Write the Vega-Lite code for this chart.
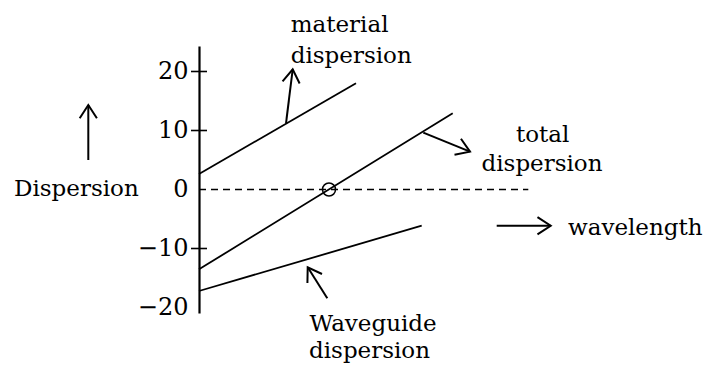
{
  "$schema": "https://vega.github.io/schema/vega-lite/v6.json",
  "width": 514,
  "height": 267,
  "autosize": {"type": "none"},
  "padding": {"left": 199, "top": 46, "right": 0, "bottom": 52},
  "background": "white",
  "config": {"view": {"stroke": null}, "font": "DejaVu Serif", "text": {"font": "DejaVu Serif"}, "axis": {"labelFont": "DejaVu Serif"}},
  "datasets": {
    "lines": [
      {"series": "material", "x": 0, "y": 2.63},
      {"series": "material", "x": 15.7, "y": 18.0},
      {"series": "total", "x": 0, "y": -13.53},
      {"series": "total", "x": 25.37, "y": 12.92},
      {"series": "waveguide", "x": 0, "y": -17.2},
      {"series": "waveguide", "x": 22.27, "y": -6.14}
    ],
    "zero": [{"x": 0, "y": 0}, {"x": 32.93, "y": 0}],
    "cross": [{"x": 13.0, "y": 0}],
    "ticks": [{"y": 20}, {"y": 10}, {"y": -10}],
    "arrows": [
      {"arrow": "material", "x": 8.7, "y": 11.22, "x2": 9.37, "y2": 20.37},
      {"arrow": "total", "x": 22.43, "y": 9.63, "x2": 27.1, "y2": 6.41},
      {"arrow": "waveguide", "x": 12.83, "y": -18.44, "x2": 10.87, "y2": -13.19},
      {"arrow": "wavelength", "x": 29.77, "y": -6.14, "x2": 35.17, "y2": -6.14},
      {"arrow": "dispersion", "x": -11.07, "y": 5.0, "x2": -11.07, "y2": 14.32}
    ],
    "labels": [
      {"label": "Dispersion", "x": -18.5, "y": -1.1},
      {"label": "material", "x": 9.17, "y": 26.75},
      {"label": "dispersion", "x": 9.17, "y": 21.44},
      {"label": "total", "x": 31.7, "y": 8.1},
      {"label": "dispersion", "x": 28.25, "y": 3.22},
      {"label": "wavelength", "x": 36.9, "y": -7.71},
      {"label": "Waveguide", "x": 11.05, "y": -23.93},
      {"label": "dispersion", "x": 11.0, "y": -28.61}
    ]
  },
  "layer": [
    {
      "data": {"name": "lines"},
      "mark": {"type": "line", "color": "black", "strokeWidth": 1.8},
      "encoding": {
        "x": {"field": "x", "type": "quantitative", "scale": {"domain": [0, 51.4], "nice": false, "zero": false}, "axis": null},
        "y": {"field": "y", "type": "quantitative", "scale": {"domain": [-20.93, 24.32], "nice": false, "zero": false},
          "axis": {"values": [20, 10, 0, -10, -20], "ticks": false, "grid": false, "title": null,
            "domainColor": "black", "domainWidth": 2.2,
            "labelFontSize": 24, "labelColor": "black", "labelPadding": 11}},
        "detail": {"field": "series", "type": "nominal"}
      }
    },
    {
      "data": {"name": "zero"},
      "mark": {"type": "line", "color": "black", "strokeWidth": 1.5, "strokeDash": [7, 5]},
      "encoding": {
        "x": {"field": "x", "type": "quantitative", "scale": {"domain": [0, 51.4], "nice": false, "zero": false}, "axis": null},
        "y": {"field": "y", "type": "quantitative", "scale": {"domain": [-20.93, 24.32], "nice": false, "zero": false}}
      }
    },
    {
      "data": {"name": "cross"},
      "mark": {"type": "point", "shape": "circle", "size": 169, "filled": false, "color": "black", "strokeWidth": 1.5, "opacity": 1},
      "encoding": {
        "x": {"field": "x", "type": "quantitative", "scale": {"domain": [0, 51.4], "nice": false, "zero": false}, "axis": null},
        "y": {"field": "y", "type": "quantitative", "scale": {"domain": [-20.93, 24.32], "nice": false, "zero": false}}
      }
    },
    {
      "data": {"name": "ticks"},
      "mark": {"type": "tick", "orient": "horizontal", "size": 16, "thickness": 1.6, "color": "black", "opacity": 1},
      "encoding": {
        "x": {"datum": 0, "type": "quantitative", "scale": {"domain": [0, 51.4], "nice": false, "zero": false}, "axis": null},
        "y": {"field": "y", "type": "quantitative", "scale": {"domain": [-20.93, 24.32], "nice": false, "zero": false}}
      }
    },
    {
      "data": {"name": "arrows"},
      "mark": {"type": "rule", "color": "black", "strokeWidth": 2},
      "encoding": {
        "x": {"field": "x", "type": "quantitative", "scale": {"domain": [0, 51.4], "nice": false, "zero": false}, "axis": null},
        "y": {"field": "y", "type": "quantitative", "scale": {"domain": [-20.93, 24.32], "nice": false, "zero": false}},
        "x2": {"field": "x2"},
        "y2": {"field": "y2"}
      }
    },
    {
      "data": {"name": "arrows"},
      "transform": [{"filter": "datum.arrow === 'material'"}],
      "mark": {"type": "point", "shape": "M-0.65,1L0,0L0.65,1", "size": 700, "angle": 7, "filled": false, "color": "black", "strokeWidth": 2, "opacity": 1},
      "encoding": {
        "x": {"field": "x2", "type": "quantitative", "scale": {"domain": [0, 51.4], "nice": false, "zero": false}, "axis": null},
        "y": {"field": "y2", "type": "quantitative", "scale": {"domain": [-20.93, 24.32], "nice": false, "zero": false}}
      }
    },
    {
      "data": {"name": "arrows"},
      "transform": [{"filter": "datum.arrow === 'total'"}],
      "mark": {"type": "point", "shape": "M-0.65,1L0,0L0.65,1", "size": 700, "angle": 112, "filled": false, "color": "black", "strokeWidth": 2, "opacity": 1},
      "encoding": {
        "x": {"field": "x2", "type": "quantitative", "scale": {"domain": [0, 51.4], "nice": false, "zero": false}, "axis": null},
        "y": {"field": "y2", "type": "quantitative", "scale": {"domain": [-20.93, 24.32], "nice": false, "zero": false}}
      }
    },
    {
      "data": {"name": "arrows"},
      "transform": [{"filter": "datum.arrow === 'waveguide'"}],
      "mark": {"type": "point", "shape": "M-0.65,1L0,0L0.65,1", "size": 700, "angle": 328, "filled": false, "color": "black", "strokeWidth": 2, "opacity": 1},
      "encoding": {
        "x": {"field": "x2", "type": "quantitative", "scale": {"domain": [0, 51.4], "nice": false, "zero": false}, "axis": null},
        "y": {"field": "y2", "type": "quantitative", "scale": {"domain": [-20.93, 24.32], "nice": false, "zero": false}}
      }
    },
    {
      "data": {"name": "arrows"},
      "transform": [{"filter": "datum.arrow === 'wavelength'"}],
      "mark": {"type": "point", "shape": "M-0.65,1L0,0L0.65,1", "size": 700, "angle": 90, "filled": false, "color": "black", "strokeWidth": 2, "opacity": 1},
      "encoding": {
        "x": {"field": "x2", "type": "quantitative", "scale": {"domain": [0, 51.4], "nice": false, "zero": false}, "axis": null},
        "y": {"field": "y2", "type": "quantitative", "scale": {"domain": [-20.93, 24.32], "nice": false, "zero": false}}
      }
    },
    {
      "data": {"name": "arrows"},
      "transform": [{"filter": "datum.arrow === 'dispersion'"}],
      "mark": {"type": "point", "shape": "M-0.65,1L0,0L0.65,1", "size": 700, "angle": 0, "filled": false, "color": "black", "strokeWidth": 2, "opacity": 1},
      "encoding": {
        "x": {"field": "x2", "type": "quantitative", "scale": {"domain": [0, 51.4], "nice": false, "zero": false}, "axis": null},
        "y": {"field": "y2", "type": "quantitative", "scale": {"domain": [-20.93, 24.32], "nice": false, "zero": false}}
      }
    },
    {
      "data": {"name": "labels"},
      "mark": {"type": "text", "align": "left", "baseline": "alphabetic", "fontSize": 23, "color": "black"},
      "encoding": {
        "x": {"field": "x", "type": "quantitative", "scale": {"domain": [0, 51.4], "nice": false, "zero": false}, "axis": null},
        "y": {"field": "y", "type": "quantitative", "scale": {"domain": [-20.93, 24.32], "nice": false, "zero": false}},
        "text": {"field": "label", "type": "nominal"}
      }
    }
  ]
}
